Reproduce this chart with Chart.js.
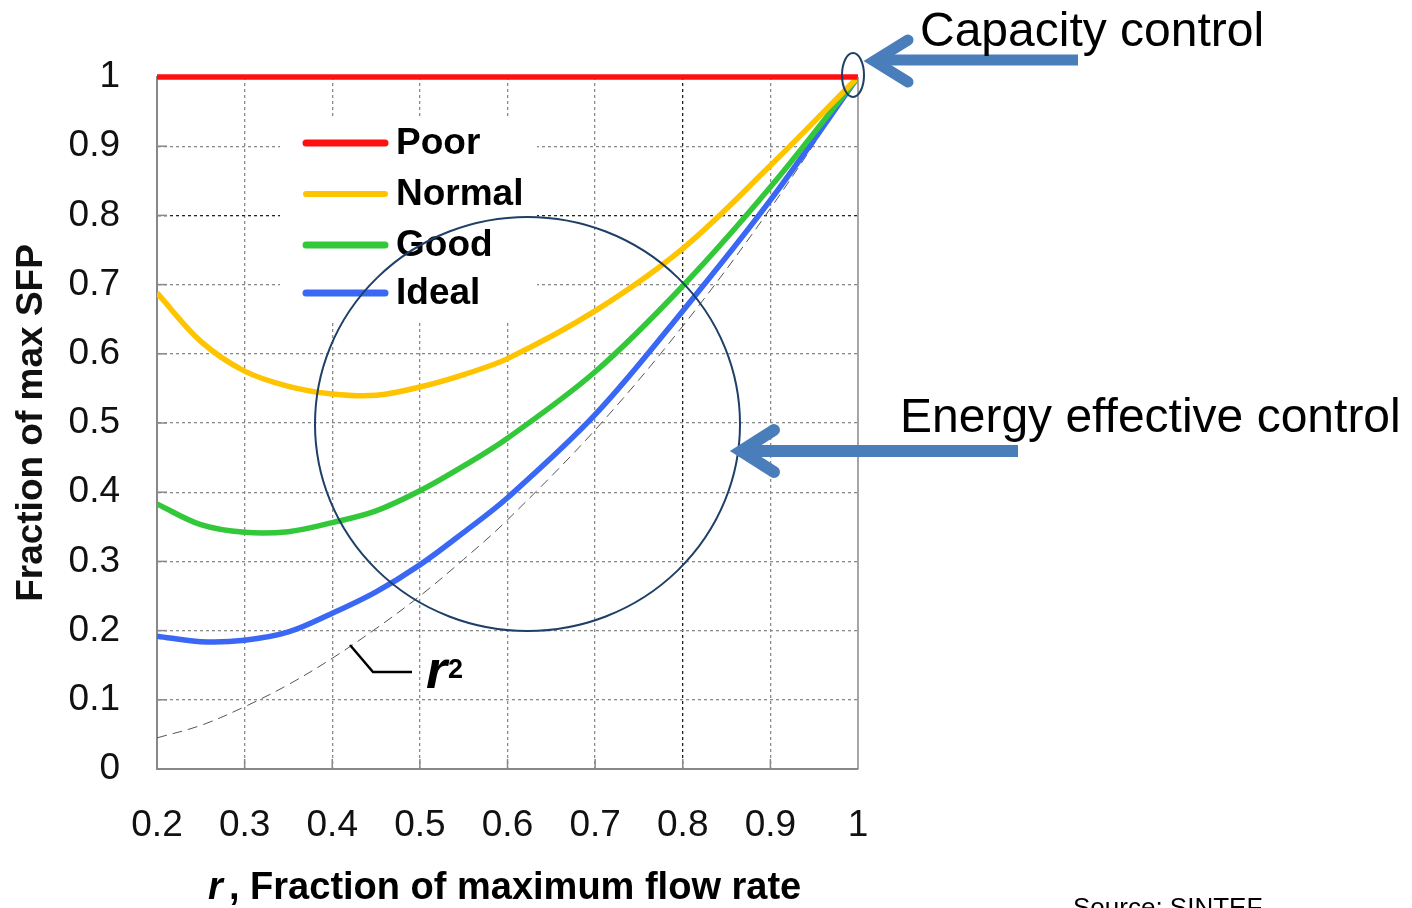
<!DOCTYPE html>
<html>
<head>
<meta charset="utf-8">
<script src="https://cdn.jsdelivr.net/npm/chart.js@4.4.0/dist/chart.umd.min.js"></script>
<style>
  html, body { margin: 0; padding: 0; background: #fff; }
  #wrap { width: 1412px; height: 908px; }
</style>
</head>
<body>
<div id="wrap"><canvas id="sfpChart" width="1412" height="908"></canvas></div>
<script>
// flow rate fraction r (x) and fraction of max SFP (y)
const flowRate = [0.2, 0.25, 0.3, 0.35, 0.4, 0.45, 0.5, 0.55, 0.6, 0.7, 0.8, 0.9, 1.0];
const poor     = [1, 1, 1, 1, 1, 1, 1, 1, 1, 1, 1, 1, 1];
const normal   = [0.688, 0.618, 0.575, 0.553, 0.542, 0.540, 0.552, 0.570, 0.593, 0.662, 0.752, 0.872, 1.0];
const good     = [0.383, 0.353, 0.342, 0.343, 0.356, 0.373, 0.402, 0.438, 0.478, 0.574, 0.698, 0.841, 1.0];
const ideal    = [0.192, 0.184, 0.186, 0.198, 0.225, 0.256, 0.295, 0.342, 0.392, 0.512, 0.662, 0.822, 1.0];
const rSquared = [0.045, 0.063, 0.090, 0.122, 0.160, 0.203, 0.250, 0.303, 0.360, 0.490, 0.640, 0.810, 1.0];

const seriesNames = ['Poor', 'Normal', 'Good', 'Ideal'];
const seriesColors = ['#ff1010', '#ffc400', '#33c83a', '#3a68f5'];

const xTickValues = [0.2, 0.3, 0.4, 0.5, 0.6, 0.7, 0.8, 0.9, 1];
const xTickLabels = ['0.2', '0.3', '0.4', '0.5', '0.6', '0.7', '0.8', '0.9', '1'];
const yTickValues = [0, 0.1, 0.2, 0.3, 0.4, 0.5, 0.6, 0.7, 0.8, 0.9, 1];
const yTickLabels = ['0', '0.1', '0.2', '0.3', '0.4', '0.5', '0.6', '0.7', '0.8', '0.9', '1'];

const FONT = "'Liberation Sans', Arial, sans-serif";

function toPoints(values) {
    return values.map((v, i) => ({ x: flowRate[i], y: v }));
}

function labelFor(values, labels, v) {
    let best = 0;
    values.forEach((t, i) => { if (Math.abs(t - v) < Math.abs(values[best] - v)) best = i; });
    return Math.abs(values[best] - v) < 1e-6 ? labels[best] : '';
}

// grid colour: hide lines on the frame, darker at 0.8 as in the scan
function gridColor(ctx, lo, hi) {
    const v = ctx.tick ? ctx.tick.value : null;
    if (v === null || Math.abs(v - lo) < 1e-6 || Math.abs(v - hi) < 1e-6) return 'rgba(0,0,0,0)';
    if (Math.abs(v - 0.8) < 1e-6) return '#222';
    return '#8a8a8a';
}

const extras = {
    id: 'extras',
    afterDraw(chart) {
        const { ctx, chartArea: area, scales: { x, y } } = chart;
        ctx.save();

        // right frame line
        ctx.strokeStyle = '#888';
        ctx.lineWidth = 1.5;
        ctx.beginPath();
        ctx.moveTo(area.right, area.top);
        ctx.lineTo(area.right, area.bottom);
        ctx.stroke();

        // inward tick marks
        ctx.lineWidth = 1.5;
        yTickValues.slice(1, -1).forEach(v => {
            const py = y.getPixelForValue(v);
            ctx.beginPath(); ctx.moveTo(area.left, py); ctx.lineTo(area.left + 10, py); ctx.stroke();
        });
        xTickValues.slice(1, -1).forEach(v => {
            const px = x.getPixelForValue(v);
            ctx.beginPath(); ctx.moveTo(px, area.bottom); ctx.lineTo(px, area.bottom - 10); ctx.stroke();
        });

        // legend box
        ctx.fillStyle = '#fff';
        ctx.fillRect(280, 117, 257, 206);
        const rows = [143, 194, 245, 293];
        seriesNames.forEach((name, i) => {
            ctx.strokeStyle = seriesColors[i];
            ctx.lineWidth = i === 1 ? 6 : 7;
            ctx.lineCap = 'round';
            ctx.beginPath(); ctx.moveTo(306, rows[i]); ctx.lineTo(385, rows[i]); ctx.stroke();
            ctx.fillStyle = '#000';
            ctx.font = 'bold 37px ' + FONT;
            ctx.textBaseline = 'middle';
            ctx.textAlign = 'left';
            ctx.fillText(name, 396, rows[i] + 1);
        });

        // r^2 leader and label
        ctx.strokeStyle = '#000';
        ctx.lineWidth = 2.5;
        ctx.lineCap = 'butt';
        ctx.beginPath();
        ctx.moveTo(350, 645); ctx.lineTo(373, 672); ctx.lineTo(412, 672);
        ctx.stroke();
        ctx.fillStyle = '#000';
        ctx.textBaseline = 'alphabetic';
        ctx.font = 'italic bold 54px ' + FONT;
        ctx.fillText('r', 426, 688);
        ctx.font = 'bold 27px ' + FONT;
        ctx.fillText('2', 448, 678);

        // x axis title with italic r
        ctx.font = 'italic bold 38px ' + FONT;
        ctx.fillText('r', 208, 899);
        ctx.font = 'bold 38px ' + FONT;
        ctx.fillText(', Fraction of maximum flow rate', 229, 899);

        // circles
        ctx.strokeStyle = '#1e3f66';
        ctx.lineWidth = 2;
        ctx.beginPath();
        ctx.ellipse(527.5, 424, 212.5, 207, 0, 0, Math.PI * 2);
        ctx.stroke();
        ctx.beginPath();
        ctx.ellipse(853, 75, 11, 22, 0, 0, Math.PI * 2);
        ctx.stroke();

        // arrows
        ctx.strokeStyle = '#4a7ebb';
        ctx.lineWidth = 11;
        ctx.lineCap = 'butt';
        ctx.beginPath(); ctx.moveTo(880, 60); ctx.lineTo(1078, 60); ctx.stroke();
        ctx.lineCap = 'round';
        ctx.lineJoin = 'miter';
        ctx.beginPath(); ctx.moveTo(908, 40); ctx.lineTo(874, 61); ctx.lineTo(908, 82); ctx.stroke();

        ctx.lineWidth = 12;
        ctx.lineCap = 'butt';
        ctx.beginPath(); ctx.moveTo(745, 451); ctx.lineTo(1018, 451); ctx.stroke();
        ctx.lineCap = 'round';
        ctx.beginPath(); ctx.moveTo(774, 430); ctx.lineTo(741, 451); ctx.lineTo(774, 472); ctx.stroke();

        // callout texts
        ctx.fillStyle = '#000';
        ctx.font = '48px ' + FONT;
        ctx.fillText('Capacity control', 920, 46);
        ctx.fillText('Energy effective control', 900, 432);
        ctx.font = '26px ' + FONT;
        ctx.fillText('Source: SINTEF', 1073, 916);

        ctx.restore();
    }
};

const ctx = document.getElementById('sfpChart').getContext('2d');

new Chart(ctx, {
    type: 'line',
    data: {
        datasets: [
            { label: 'Poor', data: toPoints(poor), borderColor: seriesColors[0], borderWidth: 5.5, clip: false },
            { label: 'Normal', data: toPoints(normal), borderColor: seriesColors[1], borderWidth: 5.5 },
            { label: 'Good', data: toPoints(good), borderColor: seriesColors[2], borderWidth: 5.5 },
            { label: 'Ideal', data: toPoints(ideal), borderColor: seriesColors[3], borderWidth: 5.5 },
            { label: 'r²', data: toPoints(rSquared), borderColor: '#555', borderWidth: 1, borderDash: [10, 6] },
        ],
    },
    options: {
        responsive: false,
        animation: false,
        layout: { padding: { left: 0, top: 77, right: 554, bottom: 0 } },
        elements: {
            point: { radius: 0 },
            line: { tension: 0.35, fill: false },
        },
        plugins: {
            legend: { display: false },
            tooltip: { enabled: false },
        },
        scales: {
            x: {
                type: 'linear',
                min: 0.2,
                max: 1,
                afterFit: s => { s.height = 139; },
                ticks: {
                    stepSize: 0.1,
                    padding: 35,
                    color: '#111',
                    font: { family: FONT, size: 37 },
                    maxRotation: 0,
                    autoSkip: false,
                    callback: v => labelFor(xTickValues, xTickLabels, v),
                },
                grid: { color: c => gridColor(c, 0.2, 1), lineWidth: 1.3, drawTicks: false },
                border: { display: true, color: '#888', width: 2, dash: [3, 3] },
            },
            y: {
                min: 0,
                max: 1,
                afterFit: s => { s.width = 157; },
                ticks: {
                    stepSize: 0.1,
                    padding: 37,
                    color: '#111',
                    font: { family: FONT, size: 37 },
                    autoSkip: false,
                    callback: v => labelFor(yTickValues, yTickLabels, v),
                },
                grid: { color: c => gridColor(c, 0, 1), lineWidth: 1.3, drawTicks: false },
                border: { display: true, color: '#888', width: 2, dash: [3, 3] },
                title: {
                    display: true,
                    text: 'Fraction of max SFP',
                    color: '#111',
                    font: { family: FONT, size: 37, weight: 'bold' },
                    padding: { top: 10, bottom: 0 },
                },
            },
        },
    },
    plugins: [extras],
});
</script>
</body>
</html>
